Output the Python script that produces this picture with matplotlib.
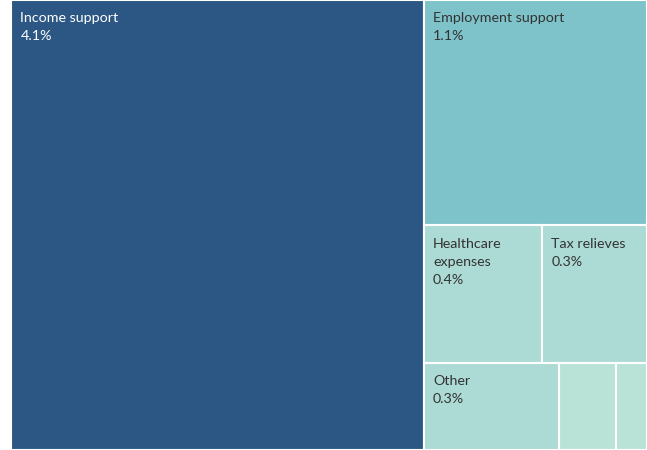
import matplotlib
matplotlib.use("Agg")
import matplotlib.pyplot as plt
from matplotlib.patches import Rectangle

# Spending by category, % of GDP
labels = ["Income support", "Employment support", "Healthcare\nexpenses",
          "Tax relieves", "Other", "", ""]
values = [4.1, 1.11, 0.36, 0.32, 0.26, 0.11, 0.06]
colors = ["#2c5784", "#7dc3c9", "#acdad5", "#acdad5", "#acdad5",
          "#b9e3d6", "#b9e3d6"]
text_colors = ["white", "#333333", "#333333", "#333333", "#333333",
               "#333333", "#333333"]

W, H = 636.0, 450.0


def worst(row, side):
    s = sum(row)
    return max(max(side * side * r / (s * s), s * s / (side * side * r)) for r in row)


def squarify(vals, x, y, w, h):
    """Squarified treemap: returns (x, y, w, h) per value, y measured downwards."""
    total = sum(vals)
    areas = [v * w * h / total for v in vals]
    rects = []
    i = 0
    while i < len(areas):
        vertical = w > h
        side = h if vertical else w
        row = [areas[i]]
        i += 1
        while i < len(areas) and worst(row + [areas[i]], side) <= worst(row, side):
            row.append(areas[i])
            i += 1
        s = sum(row)
        if vertical:
            cw = s / h
            yy = y
            for a in row:
                rects.append((x, yy, cw, a / cw))
                yy += a / cw
            x += cw
            w -= cw
        else:
            rh = s / w
            xx = x
            for a in row:
                rects.append((xx, y, a / rh, rh))
                xx += a / rh
            y += rh
            h -= rh
    return rects


fig = plt.figure(figsize=(6.47, 4.5), dpi=100)
ax = fig.add_axes([11 / 647, 0, W / 647, 1])
ax.set_xlim(0, W)
ax.set_ylim(H, 0)
ax.axis("off")

for (x, y, w, h), lab, val, c, tc in zip(squarify(values, 0, 0, W, H),
                                          labels, values, colors, text_colors):
    ax.add_patch(Rectangle((x, y), w, h, facecolor=c, edgecolor="white",
                           linewidth=1.5))
    if lab:
        ax.text(x + 9.5, y + 12.5, f"{lab}\n{val:.1f}%", color=tc, fontsize=10.3,
                family="Lato", va="top", ha="left", linespacing=1.6)

fig.savefig("out.png", dpi=100, facecolor="white")
